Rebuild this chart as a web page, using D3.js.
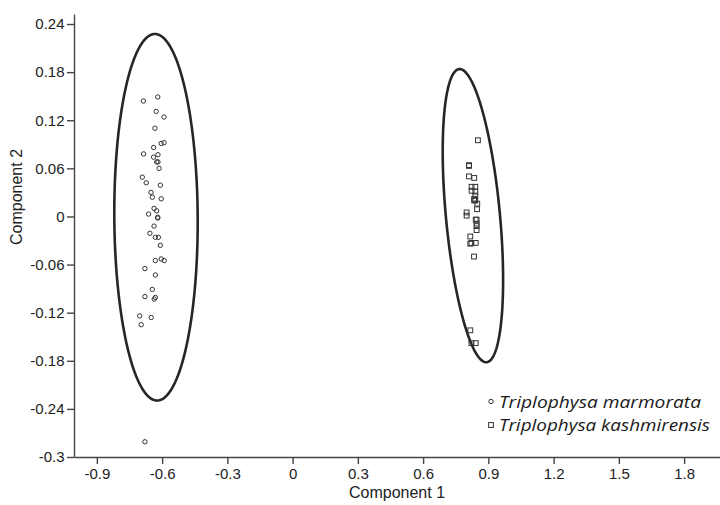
<!DOCTYPE html>
<html>
<head>
<meta charset="UTF-8">
<script src="https://d3js.org/d3.v7.min.js"></script>
<style>
  body { margin: 0; background: #fff; }
  .tick text { font-family: "Liberation Sans", Arial, sans-serif; font-size: 15px; fill: #222; }
  .axis-title { font-family: "Liberation Sans", Arial, sans-serif; font-size: 16px; fill: #222; }
  .legend text { font-family: "Open Sans", "Noto Sans", sans-serif; font-style: italic; font-size: 17px; fill: #1a1a1a; }
</style>
</head>
<body>
<svg width="720" height="505"></svg>
<script>
// Component scores: [Component 1, Component 2]
const marmorata = [
  [-0.686, 0.144], [-0.620, 0.149], [-0.627, 0.131], [-0.591, 0.124], [-0.633, 0.110],
  [-0.604, 0.091], [-0.591, 0.092], [-0.639, 0.086], [-0.685, 0.078], [-0.639, 0.074],
  [-0.619, 0.077], [-0.625, 0.068], [-0.619, 0.068], [-0.614, 0.060], [-0.691, 0.049],
  [-0.673, 0.042], [-0.608, 0.039], [-0.651, 0.030], [-0.645, 0.024], [-0.604, 0.022],
  [-0.637, 0.010], [-0.625, 0.007], [-0.662, 0.003], [-0.620, -0.001], [-0.620, -0.002],
  [-0.637, -0.012], [-0.656, -0.021], [-0.631, -0.026], [-0.617, -0.026], [-0.608, -0.036],
  [-0.631, -0.055], [-0.604, -0.053], [-0.590, -0.055], [-0.679, -0.065], [-0.631, -0.073],
  [-0.645, -0.091], [-0.679, -0.100], [-0.636, -0.103], [-0.631, -0.101], [-0.703, -0.124],
  [-0.696, -0.135], [-0.650, -0.126], [-0.679, -0.281]
];
const kashmirensis = [
  [0.852, 0.095], [0.811, 0.064], [0.811, 0.063], [0.811, 0.050], [0.835, 0.048],
  [0.823, 0.037], [0.840, 0.037], [0.823, 0.032], [0.840, 0.031], [0.840, 0.026],
  [0.835, 0.022], [0.835, 0.020], [0.840, 0.020], [0.849, 0.016], [0.848, 0.009],
  [0.800, 0.005], [0.800, 0.001], [0.842, -0.004], [0.846, -0.004], [0.846, -0.009],
  [0.846, -0.012], [0.846, -0.017], [0.817, -0.025], [0.817, -0.034], [0.822, -0.033],
  [0.842, -0.033], [0.834, -0.050], [0.817, -0.142], [0.822, -0.158], [0.842, -0.158]
];
// 95% ellipses: centre, half major axis vector, half minor axis vector (data units)
const ellipses = [
  { c: [-0.628, -0.001], u: [-0.005, 0.2286], v: [0.1917, 0.0] },
  { c: [0.829, 0.001], u: [-0.063, 0.1828], v: [0.1237, 0.0031] }
];
const xTicks = [-0.9, -0.6, -0.3, 0, 0.3, 0.6, 0.9, 1.2, 1.5, 1.8];
const yTicks = [-0.3, -0.24, -0.18, -0.12, -0.06, 0, 0.06, 0.12, 0.18, 0.24];
const legendNames = ["Triplophysa marmorata", "Triplophysa kashmirensis"];

const svg = d3.select("svg");
const x = d3.scaleLinear().domain([-1.005, 1.965]).range([74, 720]);
const y = d3.scaleLinear().domain([-0.3, 0.2525]).range([457, 14]);
const fmt = d => d === 0 ? "0" : String(+d.toFixed(2));

svg.append("g")
  .attr("transform", `translate(0,${y(-0.3)})`)
  .call(d3.axisBottom(x).tickValues(xTicks).tickFormat(fmt).tickSize(7).tickSizeOuter(0).tickPadding(4));
svg.append("g")
  .attr("transform", `translate(${x(-1.005)},0)`)
  .call(d3.axisLeft(y).tickValues(yTicks).tickFormat(fmt).tickSize(7).tickSizeOuter(0).tickPadding(2.5));
svg.selectAll(".domain, .tick line").attr("stroke", "#444").attr("stroke-width", 1.4);

svg.append("text").attr("class", "axis-title")
  .attr("x", 397).attr("y", 498).attr("text-anchor", "middle").text("Component 1");
svg.append("text").attr("class", "axis-title")
  .attr("transform", "translate(21.5,197) rotate(-90)").attr("text-anchor", "middle").text("Component 2");

const line = d3.line().x(d => x(d[0])).y(d => y(d[1])).curve(d3.curveLinearClosed);
const ts = d3.range(0, 2 * Math.PI, Math.PI / 90);
svg.selectAll(".ell").data(ellipses).join("path")
  .attr("class", "ell")
  .attr("d", e => line(ts.map(t => [
    e.c[0] + e.u[0] * Math.cos(t) + e.v[0] * Math.sin(t),
    e.c[1] + e.u[1] * Math.cos(t) + e.v[1] * Math.sin(t)
  ])))
  .attr("fill", "none").attr("stroke", "#262626").attr("stroke-width", 2.6);

svg.selectAll(".m").data(marmorata).join("circle")
  .attr("class", "m")
  .attr("cx", d => x(d[0])).attr("cy", d => y(d[1])).attr("r", 2.2)
  .attr("fill", "none").attr("stroke", "#333").attr("stroke-width", 1);

svg.selectAll(".k").data(kashmirensis).join("rect")
  .attr("class", "k")
  .attr("x", d => x(d[0]) - 2.4).attr("y", d => y(d[1]) - 2.4)
  .attr("width", 4.8).attr("height", 4.8)
  .attr("fill", "none").attr("stroke", "#333").attr("stroke-width", 1);

const legendWidths = [202, 211];
const legend = svg.append("g").attr("class", "legend");
legendNames.forEach((name, i) => {
  const cy = 401.5 + i * 23.5;
  if (i === 0) {
    legend.append("circle").attr("cx", 491).attr("cy", cy).attr("r", 2.2)
      .attr("fill", "none").attr("stroke", "#333").attr("stroke-width", 1);
  } else {
    legend.append("rect").attr("x", 488.6).attr("y", cy - 2.4).attr("width", 4.8).attr("height", 4.8)
      .attr("fill", "none").attr("stroke", "#333").attr("stroke-width", 1);
  }
  legend.append("text").attr("x", 499).attr("y", cy + 6)
    .attr("textLength", legendWidths[i]).attr("lengthAdjust", "spacingAndGlyphs")
    .text(name);
});
</script>
</body>
</html>
